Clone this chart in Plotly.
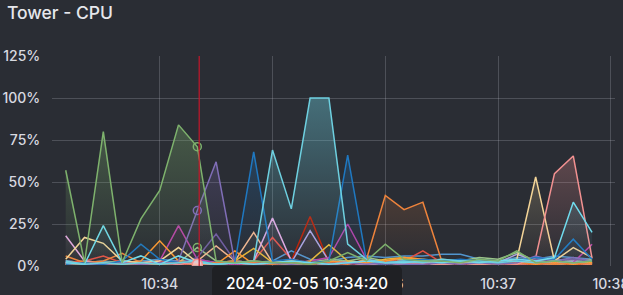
import plotly.graph_objects as go

# ---- data -------------------------------------------------------------
times = [
    "2024-02-05 10:33:10", "2024-02-05 10:33:20", "2024-02-05 10:33:30", "2024-02-05 10:33:40",
    "2024-02-05 10:33:50", "2024-02-05 10:34:00", "2024-02-05 10:34:10", "2024-02-05 10:34:20",
    "2024-02-05 10:34:30", "2024-02-05 10:34:40", "2024-02-05 10:34:50", "2024-02-05 10:35:00",
    "2024-02-05 10:35:10", "2024-02-05 10:35:20", "2024-02-05 10:35:30", "2024-02-05 10:35:40",
    "2024-02-05 10:35:50", "2024-02-05 10:36:00", "2024-02-05 10:36:10", "2024-02-05 10:36:20",
    "2024-02-05 10:36:30", "2024-02-05 10:36:40", "2024-02-05 10:36:50", "2024-02-05 10:37:00",
    "2024-02-05 10:37:10", "2024-02-05 10:37:20", "2024-02-05 10:37:30", "2024-02-05 10:37:40",
    "2024-02-05 10:37:50",
]

teal_dark  = [1, 1, 1, 2, 1, 1, 2, 1, 1, 2, 1, 1, 2, 1, 1, 2, 1, 1, 2, 1, 1, 2, 1, 1, 2, 1, 1, 2, 1]
orchid     = [3, 2, 2, 3, 2, 1, 3, 2, 2, 3, 2, 2, 3, 2, 1, 3, 2, 2, 3, 2, 2, 3, 2, 2, 3, 2, 2, 3, 2]
blue_light = [3, 2, 3, 2, 3, 4, 3, 4, 2, 3, 2, 3, 9, 4, 3, 5, 6, 5, 6, 6, 7, 7, 4, 3, 5, 4, 6, 5, 4]
green_lt   = [2, 3, 2, 3, 2, 3, 2, 11, 3, 2, 3, 2, 3, 2, 4, 3, 5, 3, 4, 3, 4, 3, 5, 4, 8, 3, 4, 3, 4]
dark_red   = [1, 1, 2, 1, 1, 2, 1, 1, 2, 1, 1, 2, 3, 29.5, 2, 1, 1, 2, 1, 1, 2, 1, 1, 2, 1, 1, 2, 1, 1]
red        = [2, 3, 6, 2, 1, 3, 1, 2, 1, 2, 3, 17, 4, 2, 1, 2, 1, 3, 3, 9, 2, 1, 2, 1, 2, 1, 2, 1, 2]
peach      = [2, 1, 2, 1, 2, 1, 3, 3, 12, 3, 20, 2, 1, 2, 1, 2, 1, 2, 1, 2, 1, 2, 1, 2, 1, 2, 1, 2, 1]
light_pink = [18, 3, 2, 1, 2, 1, 2, 1, 2, 2, 3, 28.5, 3, 2, 1, 2, 1, 2, 1, 2, 1, 2, 1, 2, 1, 2, 1, 2, 1]
lilac      = [2, 2, 1, 2, 1, 2, 1, 3, 2, 1, 2, 1, 2, 21, 3, 2, 1, 2, 3, 2, 1, 2, 1, 2, 7, 3, 2, 3, 2]
magenta    = [2, 1, 2, 1, 2, 3, 24, 4, 2, 1, 2, 1, 2, 3, 5, 25, 4, 2, 1, 2, 1, 2, 1, 2, 1, 2, 1, 2, 13]
violet_dk  = [1, 2, 1, 1, 2, 1, 2, 5, 19, 3, 2, 1, 2, 1, 2, 1, 2, 1, 2, 3, 1, 2, 1, 2, 3, 4, 3, 4, 3]
yellow     = [1, 1, 2, 1, 2, 1, 2, 1, 2, 3, 10.5, 2, 1, 3, 12.7, 3, 2, 4, 5, 4, 3, 2, 3, 2, 3, 2, 1, 2, 2]
orange_br  = [1, 2, 1, 2, 3, 15, 3, 2, 1, 9, 1, 2, 3, 2, 3, 2, 2, 3, 5, 4, 2, 3, 2, 1, 2, 1, 2, 1, 2]
orange     = [6, 2, 3, 7.5, 2, 1, 2, 1, 2, 3, 2, 1, 2, 1, 2, 1, 4, 42, 33.5, 38, 3, 2, 1, 2, 1, 2, 1, 2, 1]
pale_yel   = [4, 17, 13.5, 3, 2, 3, 11, 2, 1, 2, 1, 2, 1, 2, 1, 2, 3, 2, 3, 2, 1, 2, 1, 2, 4, 53, 3, 11, 5]
pink       = [1, 2, 1, 2, 1, 2, 1, 2, 1, 2, 1, 2, 1, 2, 1, 2, 1, 2, 1, 2, 1, 2, 1, 2, 1, 5, 55, 65.5, 4.5]
violet     = [2, 1, 1, 2, 1, 2, 3, 33, 62, 2, 1, 2, 1, 2, 1, 2, 1, 2, 1, 1, 2, 1, 2, 1, 2, 6, 3, 5, 3]
dark_blue  = [1, 2, 1, 3, 13, 4, 2, 3, 1, 2, 68, 3, 4, 2, 3, 66, 3, 2, 3, 4, 3, 4, 3, 2, 3, 5, 4, 16, 4]
cyan_lt    = [2, 1, 24, 2, 6, 1, 6, 2, 1, 2, 1, 2, 3, 2, 1, 2, 3, 2, 2, 3, 2, 3, 2, 3, 4, 3, 5, 38, 20]
cyan       = [3, 1, 2, 1, 2, 1, 2, 3, 1, 2, 3, 69, 34, 100, 100, 13, 4, 2, 3, 2, 4, 3, 3, 2, 3, 2, 3, 2, 3]
green      = [57, 2, 80, 2, 28, 45, 84, 71, 3, 2, 3, 2, 2, 1, 3, 8, 3, 13, 4, 3, 3, 2, 4, 3, 9, 2, 3, 2, 3]

series = [
    ("teal_dark", teal_dark, "#447EBC"),
    ("orchid", orchid, "#D683CE"),
    ("blue_light", blue_light, "#5195CE"),
    ("green_lt", green_lt, "#9AC48A"),
    ("dark_red", dark_red, "#BF1B00"),
    ("red", red, "#E24D42"),
    ("peach", peach, "#F9BA8F"),
    ("light_pink", light_pink, "#E5A8E2"),
    ("lilac", lilac, "#AEA2E0"),
    ("magenta", magenta, "#BA43A9"),
    ("violet_dk", violet_dk, "#705DA0"),
    ("yellow", yellow, "#EAB839"),
    ("orange_br", orange_br, "#FF9830"),
    ("orange", orange, "#EF843C"),
    ("pale_yel", pale_yel, "#F4D598"),
    ("pink", pink, "#F29191"),
    ("violet", violet, "#806EB7"),
    ("dark_blue", dark_blue, "#1F78C1"),
    ("cyan_lt", cyan_lt, "#70DBED"),
    ("cyan", cyan, "#6ED0E0"),
    ("green", green, "#7EB26D"),
]

y_ticks = [0, 25, 50, 75, 100, 125]
y_tick_labels = ["0%", "25%", "50%", "75%", "100%", "125%"]
hover_time = "2024-02-05 10:34:20"
cursor_time = "2024-02-05 10:34:21"

# ---- style --------------------------------------------------------------
BG = "#2a2d34"
TXT = "#d8d9e0"
GRID = "rgba(204,204,220,0.22)"
FONT = "Inter"


def rgba(h, a):
    h = h.lstrip("#")
    return "rgba(%d,%d,%d,%.3f)" % (int(h[0:2], 16), int(h[2:4], 16), int(h[4:6], 16), a)


fig = go.Figure()
for name, vals, col in series:
    fig.add_trace(go.Scatter(
        x=times, y=vals, name=name, mode="lines",
        line=dict(color=col, width=1.5),
        fill="tozeroy",
        fillgradient=dict(type="vertical", start=0, stop=125,
                          colorscale=[[0, rgba(col, 0.0)], [1, rgba(col, 0.5)]]),
        hoverinfo="skip",
    ))

# hover highlight markers at the hovered timestamp
idx = times.index(hover_time)
fig.add_trace(go.Scatter(
    x=[hover_time] * 3,
    y=[green[idx], violet[idx], green_lt[idx]],
    mode="markers",
    marker=dict(size=8, color="rgba(0,0,0,0)",
                line=dict(color=["#7EB26D", "#806EB7", "#7EB26D"], width=1.5)),
    hoverinfo="skip",
))
fig.add_trace(go.Scatter(
    x=[hover_time], y=[orchid[idx] - 1],
    mode="markers",
    marker=dict(size=10, color="rgba(249,200,200,0.8)", line=dict(color="#F29191", width=1.5)),
    hoverinfo="skip",
))

# tooltip box (paper coords; plot spans px 52..615 horizontally, 56..266 vertically)
def px2paper_x(px):
    return (px - 52) / 563.0


def px2paper_y(py):
    return (266 - py) / 210.0


bx0, bx1, by0, by1 = px2paper_x(212), px2paper_x(402), px2paper_y(266), px2paper_y(305)
rx, ry = 5 / 563.0, 5 / 210.0
path = (f"M {bx0},{by1} L {bx0},{by0 - ry} Q {bx0},{by0} {bx0 + rx},{by0} "
        f"L {bx1 - rx},{by0} Q {bx1},{by0} {bx1},{by0 - ry} L {bx1},{by1} Z")

fig.update_layout(
    width=623, height=295, autosize=False,
    margin=dict(l=52, r=8, t=56, b=29, pad=0, autoexpand=False),
    paper_bgcolor=BG, plot_bgcolor=BG,
    showlegend=False,
    font=dict(family=FONT, color=TXT, size=14),
    title=dict(text="Tower - CPU", x=7 / 623, xanchor="left", xref="container",
               y=1 - 13 / 295, yanchor="middle", yref="container",
               font=dict(family=FONT, size=17.5, color="#e6e7ec", weight=500)),
    xaxis=dict(
        type="date", automargin=False,
        range=["2024-02-05 10:33:02.7", "2024-02-05 10:38:02.2"],
        tickformat="%H:%M", dtick=60000, tick0="2024-02-05 10:34:00",
        showgrid=True, gridcolor=GRID, gridwidth=1,
        zeroline=False, showline=False,
        ticks="outside", ticklen=5, tickcolor="rgba(0,0,0,0)",
        ticklabeloverflow="allow",
        tickfont=dict(family=FONT, size=14, color=TXT, weight=500),
    ),
    yaxis=dict(
        automargin=False,
        range=[0, 125], tickmode="array", tickvals=y_ticks, ticktext=y_tick_labels,
        showgrid=True, gridcolor=GRID, gridwidth=1,
        zeroline=False, showline=False,
        ticks="outside", ticklen=8, tickcolor="rgba(0,0,0,0)",
        tickfont=dict(family=FONT, size=14, color=TXT, weight=500),
    ),
    shapes=[
        dict(type="line", xref="x", yref="paper", x0=cursor_time, x1=cursor_time,
             y0=0, y1=1, line=dict(color="#C4162A", width=1.2), layer="above"),
        dict(type="path", xref="paper", yref="paper", path=path,
             fillcolor="#1f2024", line=dict(width=0), layer="above"),
    ],
    annotations=[
        dict(text="2024-02-05 10:34:20", xref="paper", yref="paper",
             x=px2paper_x(307), y=px2paper_y(283), xanchor="center", yanchor="middle",
             showarrow=False, font=dict(family=FONT, size=15.5, color="#ffffff", weight=500)),
    ],
)

fig.write_html("out.html")
